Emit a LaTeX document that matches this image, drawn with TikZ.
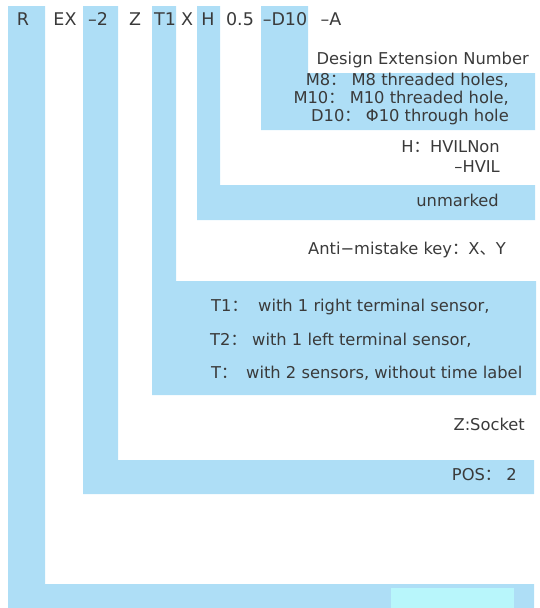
\documentclass[tikz,border=0pt]{standalone}
\usepackage{fontspec}
\setmainfont{DejaVu Sans}
\newfontfamily\cjk{Noto Sans CJK SC}
\newcommand\fwcolon{{\cjk ：}}
\newcommand\fwcomma{{\cjk 、}}
\definecolor{barblue}{HTML}{AEDEF6}
\definecolor{paleaqua}{HTML}{B8F6FB}
\definecolor{txtgray}{HTML}{3A3A3A}
\begin{document}
\begin{tikzpicture}[x=1pt,y=-1pt,
  every node/.style={inner sep=0pt, text=txtgray},
  codetxt/.style={font=\fontsize{17.5}{20}\selectfont, anchor=mid},
  desctxt/.style={font=\fontsize{16.3}{19}\selectfont},
  bar/.style={fill=barblue, draw=none}]
\useasboundingbox (0,0) rectangle (540,608);
% L-shaped bars
\fill[bar] (8,6) -- (45,6) -- (45,584) -- (534,584) -- (534,608) -- (8,608) -- cycle;
\fill[paleaqua] (391,588) rectangle (514,608);
\fill[bar] (83,6) -- (118,6) -- (118,460) -- (534,460) -- (534,494) -- (83,494) -- cycle;
\fill[bar] (152,6) -- (176,6) -- (176,281) -- (536,281) -- (536,395) -- (152,395) -- cycle;
\fill[bar] (197,6) -- (220,6) -- (220,185) -- (535,185) -- (535,220) -- (197,220) -- cycle;
\fill[bar] (261,6) -- (308,6) -- (308,73) -- (535,73) -- (535,130) -- (261,130) -- cycle;
% code row
\node[codetxt] (cR)   at (23,23)  {R};
\node[codetxt] (cEX)  at (65,23)  {EX};
\node[codetxt] (c2)   at (98,23)  {–2};
\node[codetxt] (cZ)   at (135,23) {Z};
\node[codetxt] (cT1)  at (165,23) {T1};
\node[codetxt] (cX)   at (187,23) {X};
\node[codetxt] (cH)   at (208,23) {H};
\node[codetxt] (c05)  at (240,23) {0.5};
\node[codetxt] (cD10) at (285,23) {–D10};
\node[codetxt] (cA)   at (331,23) {–A};
% descriptions
\node[desctxt, anchor=mid east] (dDesign) at (529,62) {Design Extension Number};
\node[desctxt, anchor=mid east] (dM8)  at (509,83)  {M8\fwcolon\ M8 threaded holes,};
\node[desctxt, anchor=mid east] (dM10) at (509,101) {M10\fwcolon\ M10 threaded hole,};
\node[desctxt, anchor=mid east] (dD10) at (509,119) {D10\fwcolon\ Φ10 through hole};
\node[desctxt, anchor=mid east] (dH1)  at (500,150) {H\fwcolon HVILNon};
\node[desctxt, anchor=mid east] (dH2)  at (500,170) {–HVIL};
\node[desctxt, anchor=mid east] (dUn)  at (499,204) {unmarked};
\node[desctxt, anchor=mid east] (dKey) at (506,252) {Anti−mistake key\fwcolon X\fwcomma Y};
\node[desctxt, anchor=mid west] (kT1) at (211,309) {T1\fwcolon};
\node[desctxt, anchor=mid west] (tT1) at (258,309) {with 1 right terminal sensor,};
\node[desctxt, anchor=mid west] (kT2) at (210,343) {T2\fwcolon};
\node[desctxt, anchor=mid west] (tT2) at (252,343) {with 1 left terminal sensor,};
\node[desctxt, anchor=mid west] (kT)  at (211,376) {T\fwcolon};
\node[desctxt, anchor=mid west] (tT)  at (246,376) {with 2 sensors, without time label};
\node[desctxt, anchor=mid east] (dZ)   at (525,428) {Z:Socket};
\node[desctxt, anchor=mid east] (dPOS) at (517,478) {POS\fwcolon\ 2};
\end{tikzpicture}
\end{document}
